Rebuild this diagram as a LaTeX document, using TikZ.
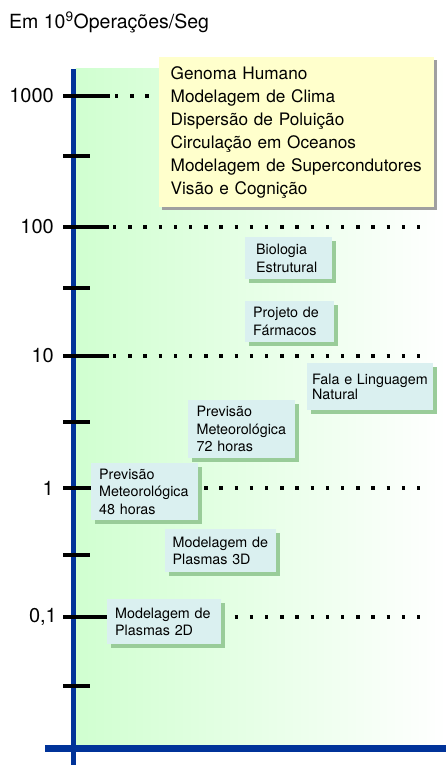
\documentclass[tikz,border=0pt]{standalone}
\usepackage{fontspec}
\setmainfont{TeX Gyre Heros}
\usepackage{tikz}
\usetikzlibrary{shadows}
\definecolor{bggreen}{RGB}{208,255,208}
\definecolor{axisblue}{RGB}{0,51,153}
\definecolor{boxyellow}{RGB}{255,255,204}
\definecolor{boxcyan}{RGB}{218,240,240}
\definecolor{shadowgreen}{RGB}{153,204,153}
\definecolor{shadowgray}{RGB}{160,160,160}
\tikzstyle{every node}+=[inner sep=0pt]
\tikzstyle{axis}=[axisblue, line width=5pt]
\tikzstyle{majortick}=[black, line width=3.3pt]
\tikzstyle{minortick}=[black, line width=3.3pt]
\tikzstyle{guideline}=[black, line width=3.4pt, dash pattern=on 3.4pt off 11.8pt]
\tikzstyle{ylabel}=[anchor=east, font=\fontsize{20}{23}\selectfont]
\tikzstyle{bigbox}=[anchor=north west, align=left, fill=boxyellow, inner xsep=11.5pt,
    font=\fontsize{17.2}{23}\selectfont,
    drop shadow={shadow xshift=3pt, shadow yshift=-3pt, opacity=1, fill=shadowgray}]
\tikzstyle{appbox}=[anchor=north west, align=left, fill=boxcyan, inner xsep=8pt,
    font=\fontsize{14.3}{17.5}\selectfont,
    drop shadow={shadow xshift=4pt, shadow yshift=-4pt, opacity=1, fill=shadowgreen}]

\begin{document}
\begin{tikzpicture}[x=1pt, y=-1pt]
        \useasboundingbox (0,0) rectangle (446,765);
        % background
        \shade [left color=bggreen, right color=white] (76,69) rectangle (446,745);
        % dotted guide lines
        \draw [guideline] (115,96) -- (422,96);
        \draw [guideline] (113,227) -- (422,227);
        \draw [guideline] (113,356) -- (422,356);
        \draw [guideline] (113,488) -- (422,488);
        \draw [guideline] (113,617) -- (422,617);
        % axes
        \draw [axis] (73.5,69) -- (73.5,765);
        \draw [axis, line width=6.5pt] (45,748.5) -- (446,748.5);
        % ticks
        \draw [majortick] (63,96) -- (110,96);
        \draw [minortick] (63,156) -- (90,156);
        \draw [majortick] (63,227) -- (109,227);
        \draw [minortick] (63,288) -- (90,288);
        \draw [majortick] (63,356) -- (109,356);
        \draw [minortick] (63,422) -- (90,422);
        \draw [majortick] (63,488) -- (109,488);
        \draw [minortick] (63,555) -- (90,555);
        \draw [majortick] (63,617) -- (108,617);
        \draw [minortick] (63,686) -- (90,686);
        % labels
        \node [anchor=base west, font=\fontsize{19.5}{23}\selectfont] (title) at (9,29) {Em 10\textsuperscript{9}Operações/Seg};
        \node [ylabel] (l1000) at (54,96) {1000};
        \node [ylabel] (l100) at (54,227) {100};
        \node [ylabel] (l10) at (54,356) {10};
        \node [ylabel] (l1) at (54,488) {1};
        \node [ylabel] (l01) at (57,617) {0,1};
        % applications
        \node [bigbox, text width=252pt, minimum height=150pt] (grand) at (159,57) {Genoma Humano\\Modelagem de Clima\\Dispersão de Poluição\\Circulação em Oceanos\\Modelagem de Supercondutores\\Visão e Cognição};
        \node [appbox, inner xsep=11pt, text width=65pt, minimum height=42pt] (bio) at (245,237) {Biologia\\Estrutural};
        \node [appbox, text width=73pt, minimum height=41pt] (farma) at (245,300.5) {Projeto de\\Fármacos};
        \node [appbox, inner xsep=5pt, text width=116pt, minimum height=47pt, font=\fontsize{14.3}{15.5}\selectfont] (fala) at (307,363) {Fala e Linguagem\\Natural};
        \node [appbox, inner xsep=8.5pt, text width=90pt, minimum height=58pt] (prev72) at (188,400) {Previsão\\Meteorológica\\72 horas};
        \node [appbox, text width=91pt, minimum height=57pt] (prev48) at (91,463) {Previsão\\Meteorológica\\48 horas};
        \node [appbox, inner xsep=7.5pt, text width=96pt, minimum height=43pt] (plasma3) at (165,529) {Modelagem de\\Plasmas 3D};
        \node [appbox, text width=98pt, minimum height=45pt, font=\fontsize{14.3}{16.5}\selectfont] (plasma2) at (107,599) {Modelagem de\\Plasmas 2D};
\end{tikzpicture}
\end{document}
